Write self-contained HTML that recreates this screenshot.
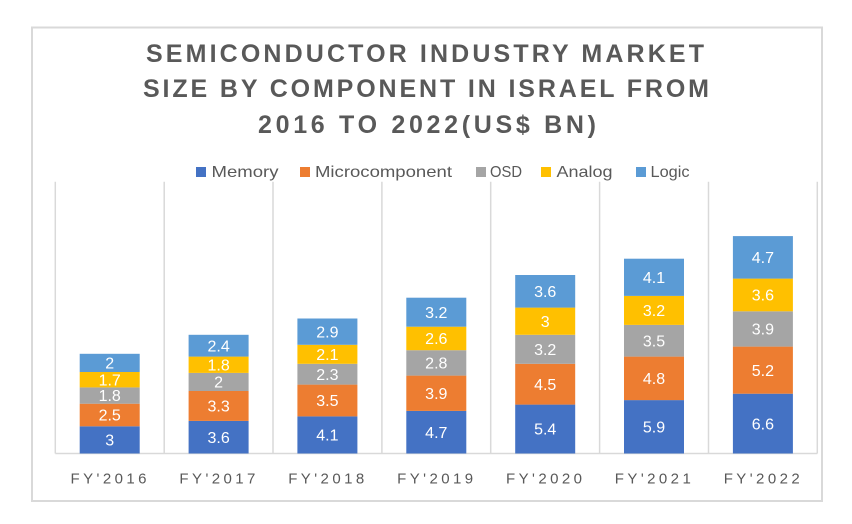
<!DOCTYPE html>
<html><head><meta charset="utf-8"><style>
html,body{margin:0;padding:0;background:#fff;}
svg{display:block;}
text{font-family:"Liberation Sans",sans-serif;}
</style></head><body>
<svg width="852" height="524" viewBox="0 0 852 524" xmlns="http://www.w3.org/2000/svg">
<rect x="0" y="0" width="852" height="524" fill="#fff"/>
<rect x="32" y="27.5" width="790" height="473.5" fill="#fff" stroke="#D9D9D9" stroke-width="2"/>
<g fill="#595959" font-weight="bold" font-size="25">
<text x="146" y="62" textLength="558" lengthAdjust="spacing">SEMICONDUCTOR INDUSTRY MARKET</text>
<text x="143" y="97" textLength="566" lengthAdjust="spacing">SIZE BY COMPONENT IN ISRAEL FROM</text>
<text x="258" y="133" textLength="338" lengthAdjust="spacing">2016 TO 2022(US$ BN)</text>
</g>
<g font-size="16" fill="#595959">
<rect x="196" y="167" width="10" height="10" fill="#4472C4"/><text x="211.5" y="177" textLength="67" lengthAdjust="spacingAndGlyphs">Memory</text>
<rect x="300" y="167" width="10" height="10" fill="#ED7D31"/><text x="315" y="177" textLength="137" lengthAdjust="spacingAndGlyphs">Microcomponent</text>
<rect x="476" y="167" width="10" height="10" fill="#A5A5A5"/><text x="490" y="177" textLength="32" lengthAdjust="spacingAndGlyphs">OSD</text>
<rect x="541" y="167" width="10" height="10" fill="#FFC000"/><text x="556.5" y="177" textLength="56" lengthAdjust="spacingAndGlyphs">Analog</text>
<rect x="636" y="167" width="10" height="10" fill="#5B9BD5"/><text x="650.5" y="177" textLength="39" lengthAdjust="spacingAndGlyphs">Logic</text>
</g>
<g stroke="#D9D9D9" stroke-width="1.5">
<line x1="55.3" y1="181.7" x2="55.3" y2="453.5"/>
<line x1="164.2" y1="181.7" x2="164.2" y2="453.5"/>
<line x1="273.0" y1="181.7" x2="273.0" y2="453.5"/>
<line x1="381.9" y1="181.7" x2="381.9" y2="453.5"/>
<line x1="490.7" y1="181.7" x2="490.7" y2="453.5"/>
<line x1="599.6" y1="181.7" x2="599.6" y2="453.5"/>
<line x1="708.5" y1="181.7" x2="708.5" y2="453.5"/>
<line x1="817.3" y1="181.7" x2="817.3" y2="453.5"/>
<line x1="55.3" y1="453.5" x2="817.3" y2="453.5"/>
</g>
<g>
<rect x="79.7" y="426.3" width="60" height="27.2" fill="#4472C4"/>
<rect x="79.7" y="403.7" width="60" height="22.6" fill="#ED7D31"/>
<rect x="79.7" y="387.4" width="60" height="16.3" fill="#A5A5A5"/>
<rect x="79.7" y="372.0" width="60" height="15.4" fill="#FFC000"/>
<rect x="79.7" y="353.8" width="60" height="18.2" fill="#5B9BD5"/>
<rect x="188.6" y="420.9" width="60" height="32.6" fill="#4472C4"/>
<rect x="188.6" y="391.0" width="60" height="29.9" fill="#ED7D31"/>
<rect x="188.6" y="372.9" width="60" height="18.1" fill="#A5A5A5"/>
<rect x="188.6" y="356.6" width="60" height="16.3" fill="#FFC000"/>
<rect x="188.6" y="334.8" width="60" height="21.8" fill="#5B9BD5"/>
<rect x="297.4" y="416.4" width="60" height="37.1" fill="#4472C4"/>
<rect x="297.4" y="384.6" width="60" height="31.8" fill="#ED7D31"/>
<rect x="297.4" y="363.8" width="60" height="20.8" fill="#A5A5A5"/>
<rect x="297.4" y="344.8" width="60" height="19.0" fill="#FFC000"/>
<rect x="297.4" y="318.5" width="60" height="26.3" fill="#5B9BD5"/>
<rect x="406.3" y="410.9" width="60" height="42.6" fill="#4472C4"/>
<rect x="406.3" y="375.6" width="60" height="35.3" fill="#ED7D31"/>
<rect x="406.3" y="350.2" width="60" height="25.4" fill="#A5A5A5"/>
<rect x="406.3" y="326.7" width="60" height="23.5" fill="#FFC000"/>
<rect x="406.3" y="297.7" width="60" height="29.0" fill="#5B9BD5"/>
<rect x="515.2" y="404.6" width="60" height="48.9" fill="#4472C4"/>
<rect x="515.2" y="363.8" width="60" height="40.8" fill="#ED7D31"/>
<rect x="515.2" y="334.8" width="60" height="29.0" fill="#A5A5A5"/>
<rect x="515.2" y="307.6" width="60" height="27.2" fill="#FFC000"/>
<rect x="515.2" y="275.0" width="60" height="32.6" fill="#5B9BD5"/>
<rect x="624.0" y="400.1" width="60" height="53.4" fill="#4472C4"/>
<rect x="624.0" y="356.6" width="60" height="43.5" fill="#ED7D31"/>
<rect x="624.0" y="324.9" width="60" height="31.7" fill="#A5A5A5"/>
<rect x="624.0" y="295.9" width="60" height="29.0" fill="#FFC000"/>
<rect x="624.0" y="258.7" width="60" height="37.2" fill="#5B9BD5"/>
<rect x="732.9" y="393.7" width="60" height="59.8" fill="#4472C4"/>
<rect x="732.9" y="346.6" width="60" height="47.1" fill="#ED7D31"/>
<rect x="732.9" y="311.3" width="60" height="35.3" fill="#A5A5A5"/>
<rect x="732.9" y="278.6" width="60" height="32.7" fill="#FFC000"/>
<rect x="732.9" y="236.1" width="60" height="42.5" fill="#5B9BD5"/>
</g>
<g fill="#fff" font-size="16" text-anchor="middle">
<text x="109.7" y="445.6">3</text><text x="109.7" y="420.7">2.5</text><text x="109.7" y="401.2">1.8</text><text x="109.7" y="385.4">1.7</text><text x="109.7" y="368.6">2</text>
<text x="218.6" y="442.9">3.6</text><text x="218.6" y="411.6">3.3</text><text x="218.6" y="387.6">2</text><text x="218.6" y="370.4">1.8</text><text x="218.6" y="351.4">2.4</text>
<text x="327.4" y="440.6">4.1</text><text x="327.4" y="406.2">3.5</text><text x="327.4" y="379.9">2.3</text><text x="327.4" y="360.0">2.1</text><text x="327.4" y="337.3">2.9</text>
<text x="436.3" y="437.9">4.7</text><text x="436.3" y="398.9">3.9</text><text x="436.3" y="368.6">2.8</text><text x="436.3" y="344.1">2.6</text><text x="436.3" y="317.9">3.2</text>
<text x="545.2" y="434.7">5.4</text><text x="545.2" y="389.9">4.5</text><text x="545.2" y="355.0">3.2</text><text x="545.2" y="326.9">3</text><text x="545.2" y="297.0">3.6</text>
<text x="654.0" y="432.5">5.9</text><text x="654.0" y="384.0">4.8</text><text x="654.0" y="346.4">3.5</text><text x="654.0" y="316.1">3.2</text><text x="654.0" y="283.0">4.1</text>
<text x="762.9" y="429.3">6.6</text><text x="762.9" y="375.8">5.2</text><text x="762.9" y="334.6">3.9</text><text x="762.9" y="300.7">3.6</text><text x="762.9" y="263.1">4.7</text>
</g>
<g fill="#595959" font-size="15" text-anchor="middle">
<text x="108.5" y="483.5" textLength="76" lengthAdjust="spacing">FY'2016</text>
<text x="217.4" y="483.5" textLength="76" lengthAdjust="spacing">FY'2017</text>
<text x="326.2" y="483.5" textLength="76" lengthAdjust="spacing">FY'2018</text>
<text x="435.1" y="483.5" textLength="76" lengthAdjust="spacing">FY'2019</text>
<text x="544.0" y="483.5" textLength="76" lengthAdjust="spacing">FY'2020</text>
<text x="652.8" y="483.5" textLength="76" lengthAdjust="spacing">FY'2021</text>
<text x="761.7" y="483.5" textLength="76" lengthAdjust="spacing">FY'2022</text>
</g>
</svg>
</body></html>
